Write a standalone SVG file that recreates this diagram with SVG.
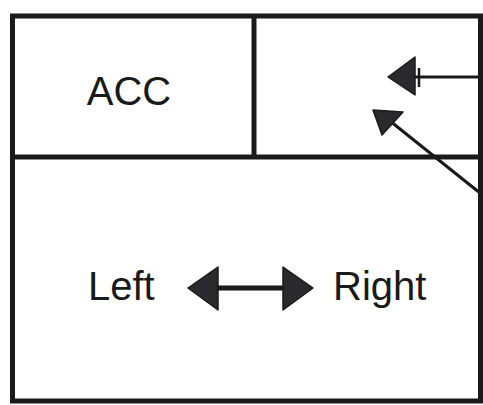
<svg xmlns="http://www.w3.org/2000/svg" width="483" height="405" viewBox="0 0 483 405">
<style>
.frame{fill:none;stroke:#1a1a1a;stroke-width:5}
.div{stroke:#1a1a1a;stroke-width:5}
.lbl{font-family:"Liberation Sans",Arial,sans-serif;font-size:40px;fill:#1a1a1a}
.ln{stroke:#1a1a1a;fill:none}
.hd{fill:#2a2a2e;stroke:#1a1a1a;stroke-width:1.5;stroke-linejoin:round}
</style>
<rect width="483" height="405" fill="#ffffff"/>
<g id="frame">
<rect class="frame" x="12.5" y="16" width="468" height="385"/>
<line class="div" x1="12" y1="157" x2="481" y2="157"/>
<line class="div" x1="254" y1="16" x2="254" y2="157"/>
</g>
<g id="acc">
<text class="lbl" x="129" y="105" text-anchor="middle">ACC</text>
</g>
<g id="left">
<text class="lbl" x="88" y="300">Left</text>
</g>
<g id="right">
<text class="lbl" x="333" y="300">Right</text>
</g>
<g id="connectors">
<line class="ln" stroke-width="3" x1="481" y1="77" x2="414" y2="77"/>
<line class="ln" stroke-width="2.5" x1="419" y1="68" x2="419" y2="87"/>
<polygon class="hd" points="388,77 415,57 415,95"/>
<line class="ln" stroke-width="3" x1="480" y1="193" x2="390" y2="121"/>
<polygon class="hd" points="373,110 403,112 382,135"/>
<line class="ln" stroke-width="5" x1="215" y1="288" x2="286" y2="288"/>
<polygon class="hd" points="188,288 218,267 218,310"/>
<polygon class="hd" points="313,288 283,267 283,310"/>
</g>
</svg>
